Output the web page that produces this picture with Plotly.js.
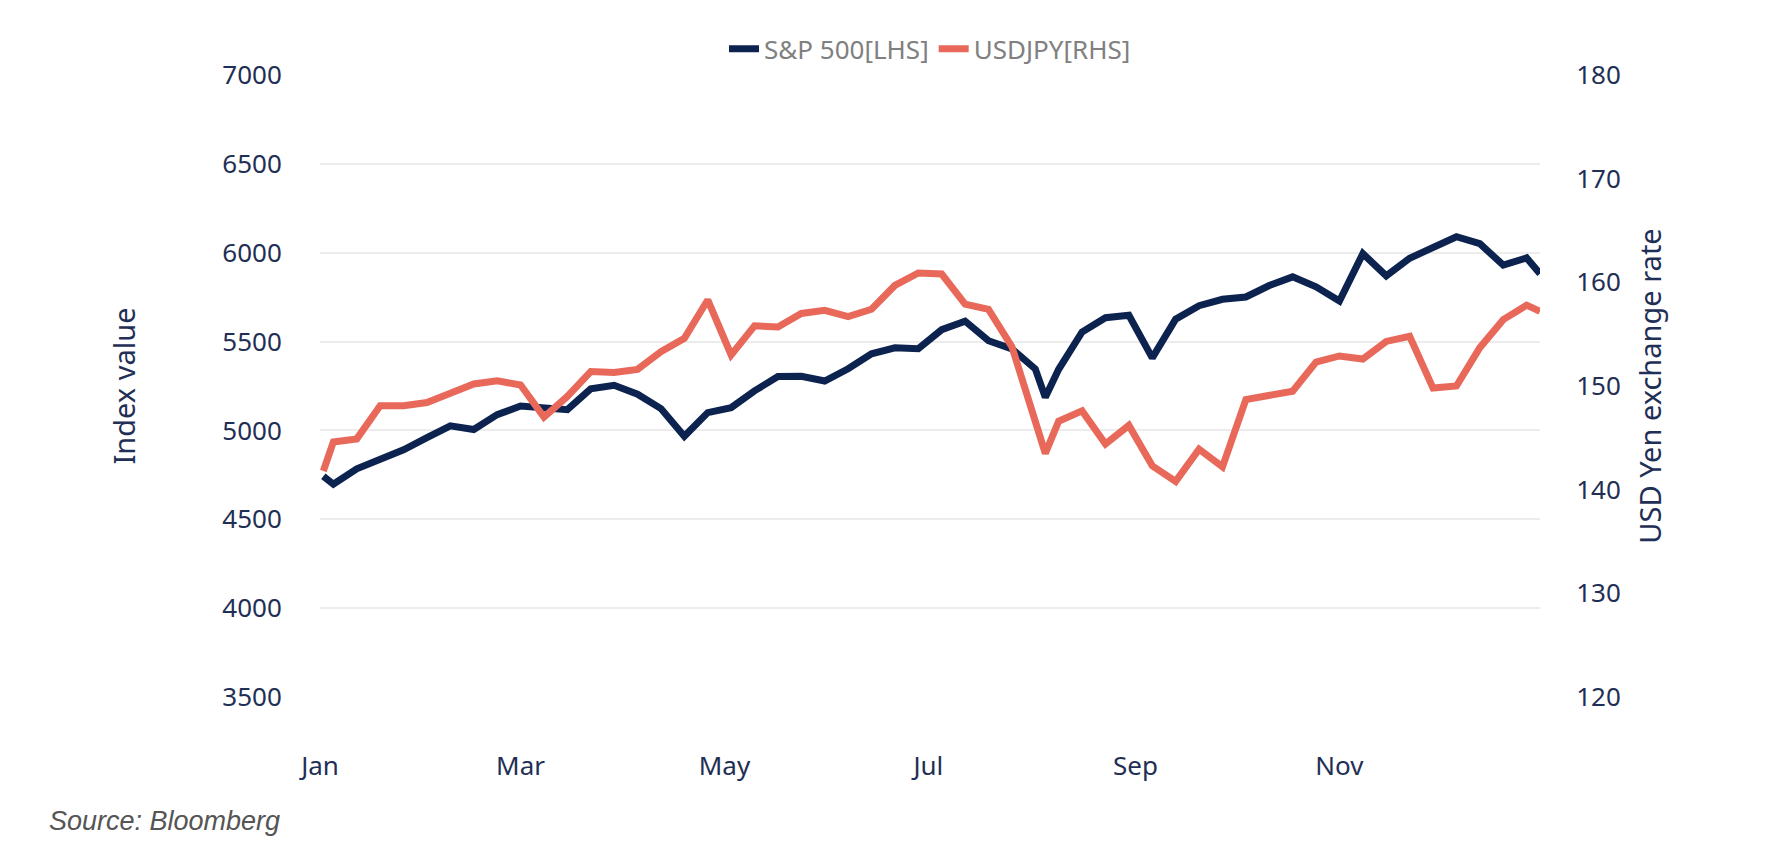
<!DOCTYPE html>
<html>
<head>
<meta charset="utf-8">
<script src="https://cdn.plot.ly/plotly-3.0.1.min.js"></script>
<style>body{margin:0;background:#fff}#chart{width:1766px;height:864px}</style>
</head>
<body>
<div id="chart"></div>
<script>
// weekly closes
var dates=['2024-01-02','2024-01-05','2024-01-12','2024-01-19','2024-01-26','2024-02-02','2024-02-09','2024-02-16','2024-02-23','2024-03-01',
'2024-03-08','2024-03-15','2024-03-22','2024-03-29','2024-04-05','2024-04-12','2024-04-19','2024-04-26','2024-05-03','2024-05-10',
'2024-05-17','2024-05-24','2024-05-31','2024-06-07','2024-06-14','2024-06-21','2024-06-28','2024-07-05','2024-07-12','2024-07-19',
'2024-07-26','2024-08-02','2024-08-05','2024-08-09','2024-08-16','2024-08-23','2024-08-30','2024-09-06','2024-09-13','2024-09-20',
'2024-09-27','2024-10-04','2024-10-11','2024-10-18','2024-10-25','2024-11-01','2024-11-08','2024-11-15','2024-11-22','2024-11-29',
'2024-12-06','2024-12-13','2024-12-20','2024-12-27','2024-12-31']
var spx=[4742,4697,4784,4840,4891,4959,5026,5005,5089,5137,
5124,5117,5234,5254,5204,5123,4967,5100,5128,5223,
5303,5305,5278,5347,5431,5465,5460,5567,5615,5505,
5459,5346,5186,5344,5554,5634,5648,5408,5626,5702,
5738,5751,5815,5864,5808,5728,5995,5870,5969,6032,
6090,6051,5930,5971,5882]
var jpy=[141.8,144.6,144.9,148.1,148.1,148.4,149.3,150.2,150.5,150.1,
147.0,149.0,151.4,151.3,151.6,153.3,154.6,158.3,153.0,155.8,
155.7,157.0,157.3,156.7,157.4,159.7,160.9,160.8,157.9,157.4,
153.8,146.5,143.5,146.6,147.6,144.4,146.2,142.3,140.8,143.9,
142.2,148.7,149.1,149.5,152.3,152.9,152.6,154.3,154.8,149.8,
150.0,153.7,156.4,157.8,157.2]

var navy='#0c2350', coral='#e8695a', tickc='#1f2f55'
var f='Noto Sans, Open Sans, sans-serif'

var traces=[
  {x:dates,y:spx,name:'S&P 500[LHS]',type:'scatter',mode:'lines',line:{color:navy,width:7}},
  {x:dates,y:jpy,name:'USDJPY[RHS]',type:'scatter',mode:'lines',line:{color:coral,width:7},yaxis:'y2'}
]
var layout={
  width:1766,height:864,paper_bgcolor:'#fff',plot_bgcolor:'#fff',
  margin:{l:320,r:226,t:75,b:167},
  font:{family:f,color:tickc,size:26},
  showlegend:true,
  legend:{orientation:'h',x:0.5,xanchor:'center',y:1.042,yanchor:'middle',font:{size:26,color:'#808080'}},
  xaxis:{type:'date',range:['2024-01-01','2024-12-31'],tickvals:['2024-01-01','2024-03-01','2024-05-01','2024-07-01','2024-09-01','2024-11-01'],
    ticktext:['Jan','Mar','May','Jul','Sep','Nov'],showgrid:false,zeroline:false,showline:false,ticks:'outside',ticklen:46,tickcolor:'rgba(0,0,0,0)',tickfont:{size:26,color:tickc}},
  yaxis:{range:[3500,7000],dtick:500,showgrid:true,gridcolor:'#ececec',gridwidth:2,zeroline:false,ticks:'outside',ticklen:32,tickcolor:'rgba(0,0,0,0)',
    title:{text:'Index value',font:{size:29,color:tickc},standoff:78}},
  yaxis2:{range:[120,180],dtick:10,overlaying:'y',side:'right',showgrid:false,zeroline:false,ticks:'outside',ticklen:30,tickcolor:'rgba(0,0,0,0)',
    title:{text:'USD Yen exchange rate',font:{size:29,color:tickc},standoff:20}},
  annotations:[{text:'<i>Source: Bloomberg</i>',xref:'paper',yref:'paper',x:-0.224,xanchor:'left',y:-0.2,yanchor:'middle',showarrow:false,
    font:{family:'Liberation Sans, Arial, sans-serif',size:27,color:'#555'}}]
}
Plotly.newPlot('chart',traces,layout,{displayModeBar:false})
</script>
</body>
</html>
